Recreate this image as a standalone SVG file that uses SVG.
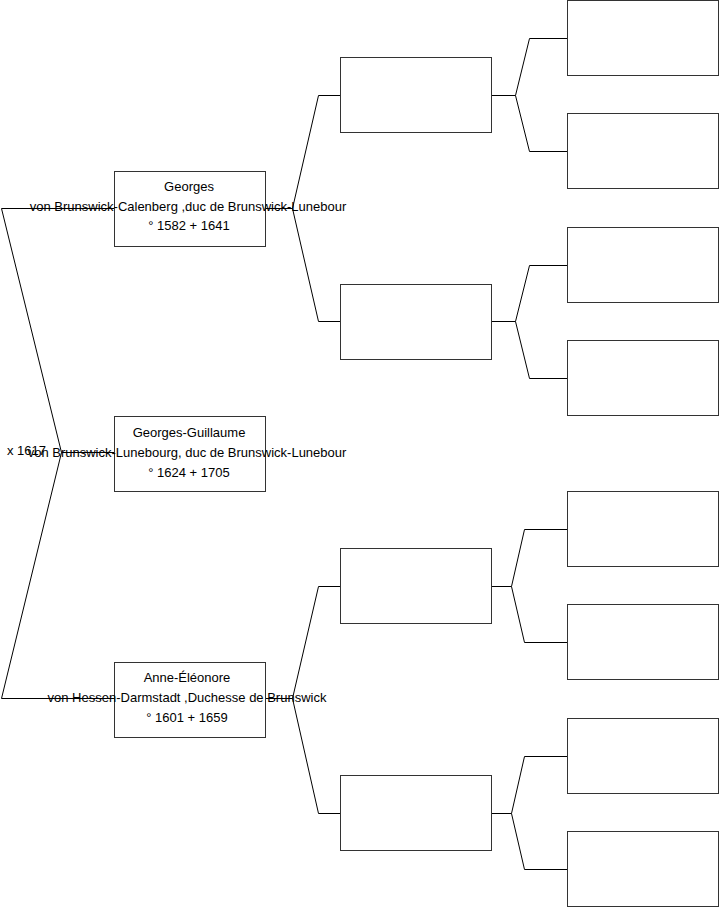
<svg xmlns="http://www.w3.org/2000/svg" width="719" height="908" viewBox="0 0 719 908">
<style>
.c{fill:none;stroke:#000;stroke-width:1}
.b{fill:#fff;stroke:#333;stroke-width:1}
.t{font-family:"Liberation Sans",Arial,sans-serif;font-size:13px;fill:#000;text-anchor:middle}
.m{font-family:"Liberation Sans",Arial,sans-serif;font-size:13px;fill:#000}
</style>
<rect width="719" height="908" fill="#fff"/>
<g id="connectors">
<polyline class="c" points="114.5,208.5 1.5,208.5 61.5,452.5 1.5,698.5 114.5,698.5"/>
<line class="c" x1="61.5" y1="452.5" x2="114.5" y2="452.5"/>
<polyline class="c" points="340.5,95.5 318.5,95.5 292.5,208.5 318.5,321.5 340.5,321.5"/>
<line class="c" x1="265.5" y1="208.5" x2="292.5" y2="208.5"/>
<polyline class="c" points="340.5,586.5 318.5,586.5 292.5,698.5 318.5,813.5 340.5,813.5"/>
<line class="c" x1="265.5" y1="698.5" x2="292.5" y2="698.5"/>
<polyline class="c" points="567.5,38.5 529.5,38.5 515.5,95.5 529.5,151.5 567.5,151.5"/>
<line class="c" x1="491.5" y1="95.5" x2="515.5" y2="95.5"/>
<polyline class="c" points="567.5,265.5 529.5,265.5 515.5,321.5 529.5,378.5 567.5,378.5"/>
<line class="c" x1="491.5" y1="321.5" x2="515.5" y2="321.5"/>
<polyline class="c" points="567.5,529.5 524.5,529.5 511.5,586.5 524.5,642.5 567.5,642.5"/>
<line class="c" x1="491.5" y1="586.5" x2="511.5" y2="586.5"/>
<polyline class="c" points="567.5,756.5 524.5,756.5 511.5,813.5 524.5,869.5 567.5,869.5"/>
<line class="c" x1="491.5" y1="813.5" x2="511.5" y2="813.5"/>
</g>
<g id="georges">
<rect class="b" x="114.5" y="171.5" width="151" height="75"/>
<text class="t" x="189" y="191">Georges</text>
<text class="t" x="188" y="211">von Brunswick-Calenberg ,duc de Brunswick-Lunebour</text>
<text class="t" x="189" y="230">° 1582 + 1641</text>
</g>
<g id="georges-guillaume">
<rect class="b" x="114.5" y="416.5" width="151" height="75"/>
<text class="t" x="189" y="437">Georges-Guillaume</text>
<text class="t" x="187" y="457">von Brunswick-Lunebourg, duc de Brunswick-Lunebour</text>
<text class="t" x="189" y="477">° 1624 + 1705</text>
</g>
<g id="marriage">
<text class="m" x="7" y="455">x 1617</text>
</g>
<g id="anne-eleonore">
<rect class="b" x="114.5" y="662.5" width="151" height="75"/>
<text class="t" x="187" y="682">Anne-Éléonore</text>
<text class="t" x="187" y="702">von Hessen-Darmstadt ,Duchesse de Brunswick</text>
<text class="t" x="187" y="722">° 1601 + 1659</text>
</g>
<g id="p1"><rect class="b" x="340.5" y="57.5" width="151" height="75"/></g>
<g id="p2"><rect class="b" x="340.5" y="284.5" width="151" height="75"/></g>
<g id="p3"><rect class="b" x="340.5" y="548.5" width="151" height="75"/></g>
<g id="p4"><rect class="b" x="340.5" y="775.5" width="151" height="75"/></g>
<g id="q1"><rect class="b" x="567.5" y="0.5" width="151" height="75"/></g>
<g id="q2"><rect class="b" x="567.5" y="113.5" width="151" height="75"/></g>
<g id="q3"><rect class="b" x="567.5" y="227.5" width="151" height="75"/></g>
<g id="q4"><rect class="b" x="567.5" y="340.5" width="151" height="75"/></g>
<g id="q5"><rect class="b" x="567.5" y="491.5" width="151" height="75"/></g>
<g id="q6"><rect class="b" x="567.5" y="604.5" width="151" height="75"/></g>
<g id="q7"><rect class="b" x="567.5" y="718.5" width="151" height="75"/></g>
<g id="q8"><rect class="b" x="567.5" y="831.5" width="151" height="75"/></g>
</svg>
